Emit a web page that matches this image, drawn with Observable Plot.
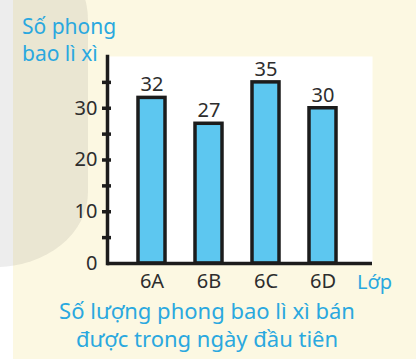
<!DOCTYPE html>
<html>
<head>
<meta charset="utf-8">
<script src="https://cdn.jsdelivr.net/npm/d3@7"></script>
<script src="https://cdn.jsdelivr.net/npm/@observablehq/plot@0.6"></script>
<style>
  html, body { margin: 0; padding: 0; background: #ffffff; }
  #wrap { position: relative; width: 416px; height: 359px; overflow: hidden; background: #ffffff; font-family: "Noto Sans", sans-serif; }
  #cream { position: absolute; left: 13px; top: 0; right: 0; bottom: 0; background: #fcf8e2; }
  #shade { position: absolute; left: -200px; top: -20px; width: 288px; height: 287px;
           border-top-right-radius: 20px 40px; border-bottom-right-radius: 92px 75px;
           background: rgba(60,60,50,0.09); }
  #chart { position: absolute; left: 0; top: 0; }
  .blue { position: absolute; color: #2aa8df; white-space: nowrap; }
  #ylab { left: 22px; top: 13px; font-size: 21px; line-height: 27px; }
  #xlab { left: 357px; top: 270px; font-size: 20px; line-height: 24px; }
  #caption { left: 0; width: 414px; top: 296px; font-size: 22px; line-height: 28px; text-align: center; }
</style>
</head>
<body>
<div id="wrap">
  <div id="cream"></div>
  <div id="shade"></div>
  <div id="chart"></div>
  <div class="blue" id="ylab">Số phong<br>bao lì xì</div>
  <div class="blue" id="xlab">Lớp</div>
  <div class="blue" id="caption">Số lượng phong bao lì xì bán<br>được trong ngày đầu tiên</div>
</div>
<script>
const classes = ["6A", "6B", "6C", "6D"];
const counts = [32, 27, 35, 30];
const yTickLabels = [0, 10, 20, 30];
const yTickMarks = [5, 10, 15, 20, 25, 30, 35];
const yDomain = [0, 40];

const data = classes.map((c, i) => ({cls: c, n: counts[i]}));
const ink = "#1c1c1c";

const chart = Plot.plot({
  width: 416,
  height: 359,
  marginLeft: 107,
  marginRight: 44,
  marginTop: 56,
  marginBottom: 96,
  style: {background: "transparent", fontFamily: "'Noto Sans', sans-serif", fontSize: "19px", color: "#2d2d2d"},
  x: {domain: classes, paddingInner: 0.53, paddingOuter: 0.55, align: 0.46, axis: null},
  y: {domain: yDomain, axis: null, label: null},
  marks: [
    Plot.frame({fill: "white", stroke: null}),
    Plot.barY(data, {x: "cls", y: "n", fill: "#5dc7f0", stroke: ink, strokeWidth: 3.5}),
    Plot.text(data, {x: "cls", y: "n", text: d => String(d.n), dy: -13, fontSize: 20, fill: "#2d2d2d"}),
    Plot.ruleY([0], {stroke: ink, strokeWidth: 3.5}),
    Plot.frame({anchor: "left", stroke: ink, strokeWidth: 3.5}),
    Plot.axisY({ticks: yTickMarks, tickSize: 9, dx: 4, tickFormat: () => "", strokeWidth: 3.5, stroke: ink, label: null}),
    Plot.axisY({ticks: yTickLabels, tickSize: 0, tickPadding: 10, fontSize: 20, fill: "#2d2d2d", label: null}),
    Plot.axisX({tickSize: 0, tickPadding: 10, fontSize: 20, fill: "#2d2d2d", label: null})
  ]
});
document.getElementById("chart").appendChild(chart);
</script>
</body>
</html>
